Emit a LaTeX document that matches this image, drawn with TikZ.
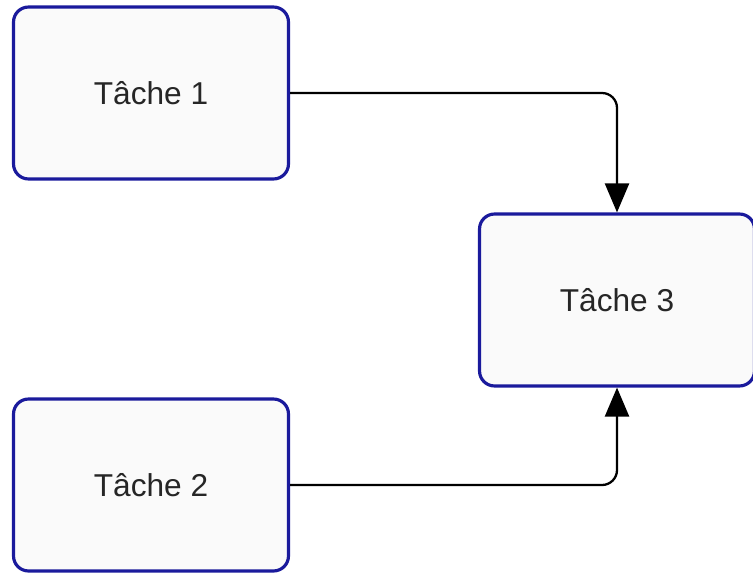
\documentclass[tikz,border=0pt]{standalone}
\usepackage{fontspec}
\setmainfont{Liberation Sans}
\usepackage{xcolor}
\usetikzlibrary{arrows.meta, positioning}

\definecolor{taskblue}{HTML}{1A1A9C}
\definecolor{taskfill}{HTML}{FAFAFA}

\begin{document}
\begin{tikzpicture}[x=0.02cm, y=-0.02cm,
  task/.style={rectangle, draw=taskblue, line width=1.8pt, rounded corners=0.3cm, fill=taskfill, minimum width=5.5cm, minimum height=3.44cm, align=center, font=\fontsize{18}{21}\selectfont, text=black!85},
  flow/.style={-{Triangle[length=0.58cm, width=0.48cm]}, line width=1.3pt, rounded corners=0.3cm}
]
\useasboundingbox (0,0) rectangle (753,574);
\node[task] (t1) at (151,93) {Tâche 1};
\node[task] (t2) at (151,485) {Tâche 2};
\node[task] (t3) at (617,300) {Tâche 3};
\draw[flow] (t1.east) -| (t3.north);
\draw[flow] (t2.east) -| (t3.south);
\end{tikzpicture}
\end{document}
